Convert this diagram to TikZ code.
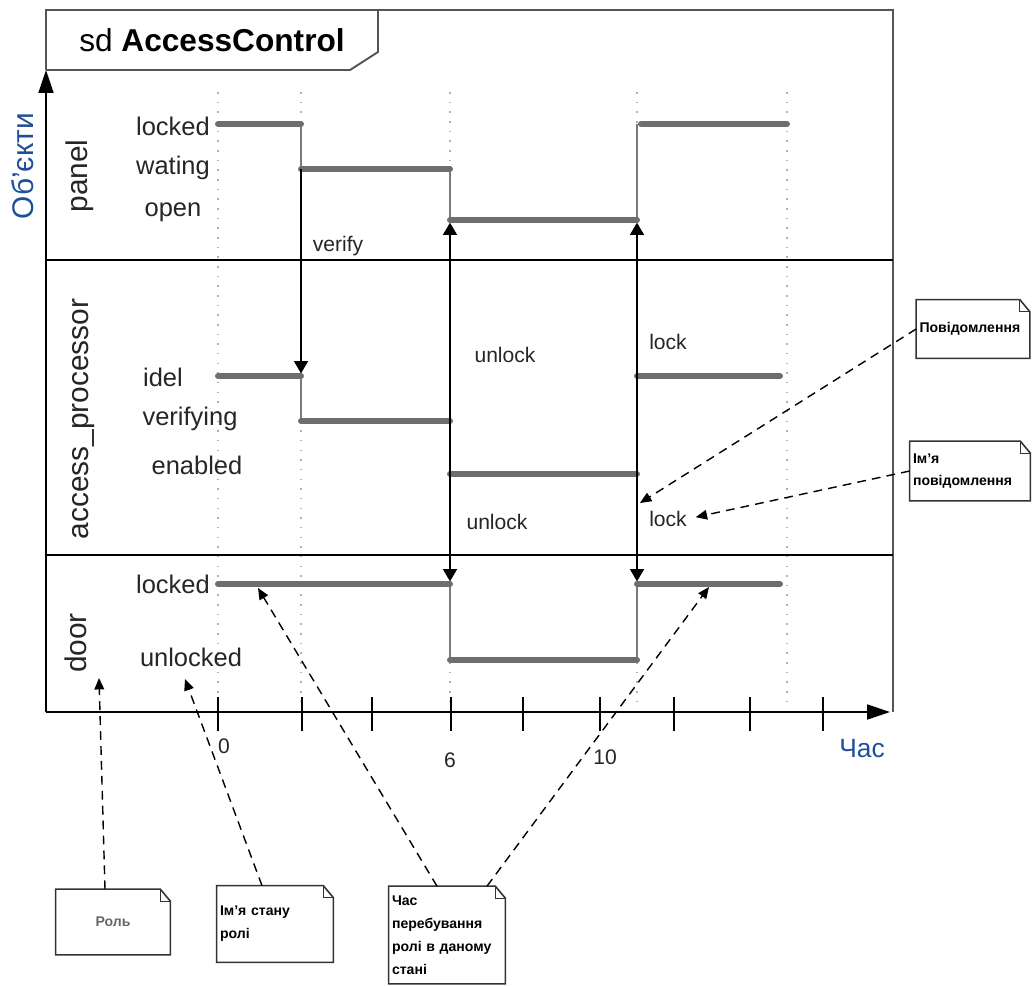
\documentclass[tikz,border=0pt]{standalone}
\usepackage{fontspec}
\setmainfont{Liberation Sans}
\usetikzlibrary{positioning, arrows.meta, calc}
\definecolor{sdFrame}{HTML}{555555}
\definecolor{sdState}{HTML}{6E6E6E}
\definecolor{sdTrans}{HTML}{7A7A7A}
\definecolor{sdGrid}{HTML}{B0B0B0}
\definecolor{sdBlue}{HTML}{1F4F9C}
\definecolor{sdNote}{HTML}{333333}

% dog-eared outline round a note node
\newcommand{\noteframe}[1]{%
  \draw[sdNote, line width=0.9pt] (#1.north west) -- ($(#1.north east)+(-10,0)$)
    -- ($(#1.north east)+(0,12)$) -- (#1.south east) -- (#1.south west) -- cycle;
  \draw[sdNote, line width=0.6pt] ($(#1.north east)+(-10,0)$) |- ($(#1.north east)+(0,12)$);}

\begin{document}
\begin{tikzpicture}[
  x=0.02cm, y=-0.02cm,
  every node/.style={inner sep=0pt},
  statelbl/.style={font=\fontsize{14.5}{16}\selectfont, text=black!85},
  lifeline/.style={font=\fontsize{17}{19}\selectfont, rotate=90, anchor=base, text=black!85},
  msglbl/.style={font=\fontsize{12}{14}\selectfont, text=black!85},
  ticklbl/.style={font=\fontsize{12}{14}\selectfont, text=black!85},
  state/.style={line width=3.4pt, sdState, line cap=round},
  trans/.style={line width=0.8pt, sdTrans},
  grid/.style={sdGrid, line width=0.8pt, dash pattern=on 0.9pt off 4.6pt},
  msg/.style={-{Triangle[length=7pt,width=8pt]}, line width=0.7pt, shorten >=1.5pt},
  hint/.style={dash pattern=on 5pt off 3.5pt, line width=0.8pt,
               -{Triangle[length=6.5pt,width=5.5pt]}},
  note/.style={font=\fontsize{8}{13}\selectfont\bfseries, align=left, inner sep=0.06cm},
  frame/.style={sdFrame, line width=1.1pt},
  axis/.style={black, line width=1pt},
]
  \useasboundingbox (0,0) rectangle (1032,985);

  % Frame and header
  \draw[frame] (46,70) -- (46,10) -- (893,10) -- (893,712);
  \draw[frame] (46,70) -- (350,70) -- (378,52) -- (378,10);
  \node[font=\fontsize{18}{20}\selectfont] (title) at (212,40) {sd \textbf{AccessControl}};

  % Lifeline separators
  \draw[black, line width=0.7pt] (46,260) -- (893,260);
  \draw[black, line width=0.7pt] (46,555) -- (893,555);

  % Time grid
  \foreach \t in {218,301,450,637,787}
    \draw[grid] (\t,92) -- (\t,706);

  % Axes
  \draw[axis, -{Triangle[length=13pt,width=8.5pt]}] (46,712) -- (46,70);
  \draw[axis, -{Triangle[length=13pt,width=8.5pt]}] (46,712) -- (890,712);
  \foreach \t in {218,302,372,451,523,600,674,750,823}
    \draw[black, line width=0.8pt] (\t,697) -- (\t,731);
  \node[ticklbl] (t0) at (224,746) {0};
  \node[ticklbl] (t6) at (450,760) {6};
  \node[ticklbl] (t10) at (605,757) {10};
  \node[font=\fontsize{15}{17}\selectfont, text=sdBlue] (timeAxis) at (862,749) {Час};
  \node[font=\fontsize{17}{19}\selectfont, text=sdBlue, rotate=90, anchor=base] (objAxis) at (33,166) {Об'єкти};

  % Lifeline names
  \node[lifeline] (panel) at (87,176) {panel};
  \node[lifeline] (accessProc) at (88,419) {access\_processor};
  \node[lifeline] (door) at (86,643) {door};

  % State names
  \node[statelbl] (pLocked) at (173,126) {locked};
  \node[statelbl] (pWating) at (173,168) {wating};
  \node[statelbl] (pOpen) at (173,212) {open};
  \node[statelbl] (aIdel) at (163,377) {idel};
  \node[statelbl] (aVerifying) at (190,419) {verifying};
  \node[statelbl] (aEnabled) at (197,465) {enabled};
  \node[statelbl] (dLocked) at (173,584) {locked};
  \node[statelbl] (dUnlocked) at (191,657) {unlocked};

  % State changes
  \draw[trans] (301,124) -- (301,169);
  \draw[trans] (450,169) -- (450,220);
  \draw[trans] (637,220) -- (637,124);
  \draw[trans] (301,376) -- (301,421);
  \draw[trans] (450,421) -- (450,474);
  \draw[trans] (637,474) -- (637,376);
  \draw[trans] (450,584) -- (450,660);
  \draw[trans] (637,660) -- (637,584);

  % panel
  \draw[state] (218,124) -- (301,124);
  \draw[state] (301,169) -- (450,169);
  \draw[state] (450,220) -- (637,220);
  \draw[state] (641,124) -- (787,124);
  % access_processor
  \draw[state] (218,376) -- (301,376);
  \draw[state] (301,421) -- (450,421);
  \draw[state] (450,474) -- (637,474);
  \draw[state] (637,376) -- (780,376);
  % door
  \draw[state] (218,584) -- (450,584);
  \draw[state] (450,660) -- (637,660);
  \draw[state] (637,584) -- (780,584);

  % Messages
  \coordinate (verifyFrom) at (301,169);
  \coordinate (verifyTo) at (301,376);
  \coordinate (unlockFrom) at (450,474);
  \coordinate (unlockUp) at (450,220);
  \coordinate (unlockDown) at (450,584);
  \coordinate (lockFrom) at (637,474);
  \coordinate (lockUp) at (637,220);
  \coordinate (lockDown) at (637,584);
  \draw[msg] (verifyFrom) -- (verifyTo);
  \draw[msg] (unlockFrom) -- (unlockUp);
  \draw[msg] (unlockFrom) -- (unlockDown);
  \draw[msg] (lockFrom) -- (lockUp);
  \draw[msg] (lockFrom) -- (lockDown);
  \node[msglbl] (verifyLbl) at (338,246) {verify};
  \node[msglbl] (unlockA) at (505,355) {unlock};
  \node[msglbl] (unlockB) at (497,522) {unlock};
  \node[msglbl] (lockA) at (668,342) {lock};
  \node[msglbl] (lockB) at (668,519) {lock};

  % Notes
  \node[note, text width=2.14cm, minimum height=1.16cm] (msgNote) at (973,329) {Повідомлення};
  \node[note, text width=2.28cm, minimum height=1.18cm] (msgNameNote) at (970,471) {Ім'я\\повідомлення};
  \node[note, text width=2.16cm, minimum height=1.3cm, align=center, text=black!60] (roleNote) at (113,922) {Роль};
  \node[note, text width=2.2cm, minimum height=1.52cm] (stateNote) at (275,924) {Ім'я стану\\ролі};
  \node[note, text width=2.2cm, minimum height=1.94cm] (timeNote) at (447,935) {Час\\перебування\\ролі в даному\\стані};
  \foreach \n in {msgNote,msgNameNote,roleNote,stateNote,timeNote}
    {\noteframe{\n}}

  % Note pointers
  \coordinate (msgTip) at (640,503);
  \coordinate (roleTip) at (99,678);
  \coordinate (stateTip) at (185,679);
  \coordinate (doorTipA) at (258,588);
  \coordinate (doorTipB) at (709,587);
  \draw[hint] (msgNote.west) -- (msgTip);
  \draw[hint, shorten >=5pt] (msgNameNote.west) -- (lockB.east);
  \draw[hint] ($(roleNote.north)+(-8,0)$) -- (roleTip);
  \draw[hint] ($(stateNote.north)+(-13,0)$) -- (stateTip);
  \draw[hint] ($(timeNote.north)+(-10,0)$) -- (doorTipA);
  \draw[hint] ($(timeNote.north)+(40,0)$) -- (doorTipB);
\end{tikzpicture}
\end{document}
